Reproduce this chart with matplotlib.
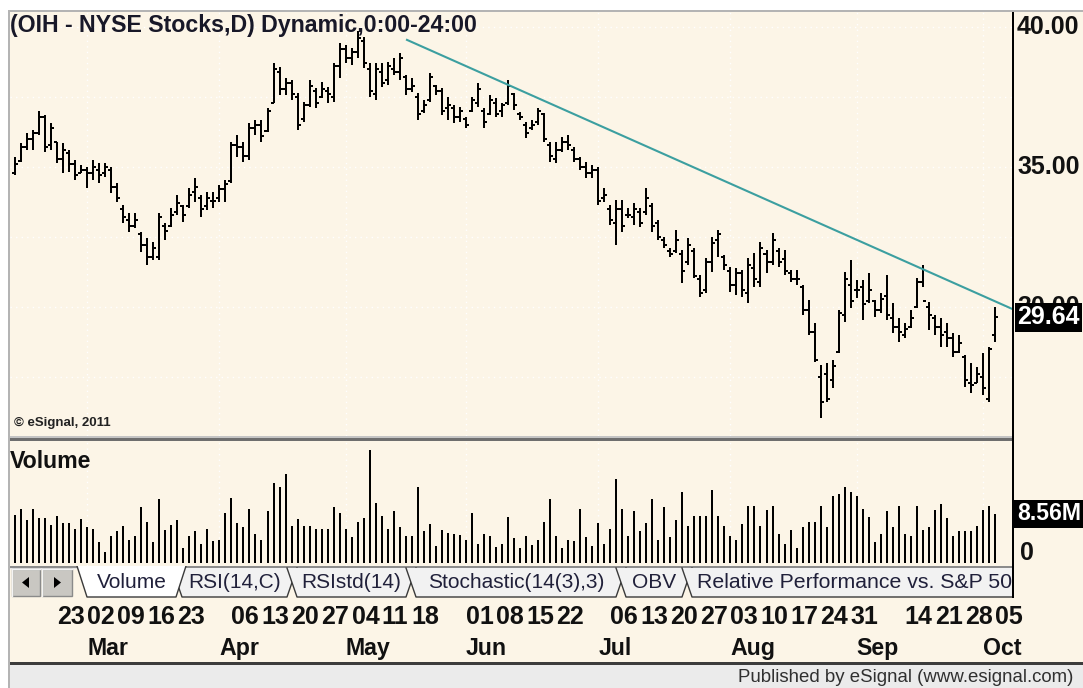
import numpy as np
import pandas as pd
import matplotlib
matplotlib.use("Agg")
import matplotlib.pyplot as plt
from matplotlib.patches import Rectangle, Polygon

plt.rcParams['font.family'] = ['Liberation Sans', 'DejaVu Sans']

# ---------------- data ----------------
first_day = '2015-02-11'
last_day = '2015-10-05'
holidays = ['2015-02-16', '2015-04-03', '2015-05-25', '2015-07-03', '2015-09-07']

high = [
    35.37, 35.85, 36.20, 36.32, 37.00, 36.86, 36.56, 35.90, 35.85, 35.61,
    35.25, 35.07, 35.01, 35.25, 35.13, 35.13, 35.01, 34.42, 33.64, 33.34,
    33.34, 32.69, 32.45, 32.33, 33.34, 32.99, 33.52, 34.00, 33.64, 34.24,
    34.59, 34.00, 34.12, 34.12, 34.36, 34.54, 35.90, 36.14, 35.90, 36.56,
    36.68, 36.68, 37.10, 38.70, 38.58, 38.17, 38.10, 37.63, 37.33, 38.10,
    37.81, 38.05, 37.87, 38.70, 39.42, 39.36, 39.24, 39.85, 39.65, 38.70,
    38.70, 38.70, 38.76, 38.88, 39.06, 38.28, 38.17, 37.63, 37.39, 38.34,
    37.93, 37.81, 37.51, 37.21, 37.15, 36.80, 37.51, 37.99, 37.10, 37.57,
    37.45, 37.27, 38.10, 37.63, 36.98, 36.62, 36.68, 37.10, 36.92, 35.90,
    35.90, 36.08, 36.14, 35.73, 35.37, 35.19, 35.07, 35.01, 34.24, 33.64,
    33.82, 33.82, 33.52, 33.70, 33.52, 34.24, 33.70, 33.10, 32.51, 32.10,
    32.75, 32.04, 32.45, 32.10, 31.14, 31.74, 32.51, 32.75, 31.86, 31.44,
    31.38, 31.32, 31.74, 31.92, 32.33, 32.04, 32.63, 32.10, 32.04, 31.32,
    31.32, 30.79, 30.25, 29.42, 27.93, 27.99, 28.11, 29.90, 31.26, 31.68,
    30.96, 30.96, 31.20, 30.25, 30.49, 31.14, 30.13, 29.60, 29.42, 29.90,
    31.02, 31.50, 30.19, 29.72, 29.60, 29.42, 29.06, 29.00, 28.29, 27.99,
    27.87, 28.35, 28.58, 30.01]

low = [
    34.71, 35.19, 35.61, 35.61, 36.14, 35.55, 35.61, 35.13, 34.77, 34.83,
    34.54, 34.77, 34.24, 34.54, 34.42, 34.65, 34.06, 33.76, 32.99, 32.69,
    32.81, 31.98, 31.50, 31.68, 31.68, 32.39, 32.87, 33.28, 33.05, 33.52,
    33.76, 33.22, 33.46, 33.52, 33.76, 33.76, 34.42, 35.37, 35.19, 35.25,
    36.14, 35.90, 36.26, 37.27, 37.57, 37.57, 37.39, 36.32, 36.62, 37.15,
    37.10, 37.45, 37.27, 37.33, 38.17, 38.70, 38.64, 38.88, 38.52, 37.51,
    37.39, 37.87, 37.93, 38.28, 38.10, 37.57, 37.69, 36.68, 36.92, 37.33,
    37.57, 36.86, 36.68, 36.56, 36.62, 36.38, 36.98, 37.15, 36.38, 36.86,
    36.77, 36.80, 37.21, 37.04, 36.68, 36.02, 36.32, 36.50, 35.90, 35.19,
    35.13, 35.55, 35.61, 35.19, 34.90, 34.60, 34.60, 33.64, 33.76, 32.93,
    32.21, 32.69, 33.17, 32.93, 32.87, 33.28, 32.69, 32.39, 32.10, 31.80,
    31.92, 30.85, 31.50, 31.02, 30.37, 30.49, 31.26, 31.80, 31.32, 30.55,
    30.43, 30.37, 30.13, 30.73, 30.73, 31.20, 31.50, 31.44, 31.14, 30.90,
    30.79, 29.72, 29.00, 28.05, 26.02, 26.62, 27.10, 28.35, 29.48, 29.95,
    30.31, 29.54, 30.13, 29.66, 29.78, 29.54, 29.06, 28.76, 28.88, 29.24,
    29.95, 30.73, 29.18, 29.00, 28.58, 28.58, 28.23, 28.35, 27.16, 26.92,
    27.27, 26.86, 26.62, 28.76]

open_ = [
    34.80, 35.20, 35.70, 36.00, 36.20, 36.80, 35.80, 35.90, 35.30, 35.50,
    35.10, 34.80, 34.90, 34.80, 34.90, 34.80, 34.90, 34.30, 33.50, 33.10,
    32.90, 32.60, 32.20, 31.80, 31.80, 32.90, 32.90, 33.40, 33.60, 33.60,
    34.10, 33.90, 33.60, 33.80, 33.90, 34.20, 34.50, 35.80, 35.70, 35.40,
    36.40, 36.50, 36.30, 37.30, 38.40, 37.80, 38.00, 37.50, 36.70, 37.20,
    37.70, 37.50, 37.70, 37.50, 38.60, 39.20, 38.90, 39.10, 39.50, 38.50,
    37.60, 38.40, 38.10, 38.50, 38.40, 38.20, 37.80, 37.50, 37.00, 37.40,
    37.90, 37.70, 37.10, 37.10, 36.80, 36.70, 37.00, 37.30, 37.00, 36.90,
    37.30, 37.00, 37.30, 37.60, 36.90, 36.50, 36.40, 36.60, 36.90, 35.80,
    35.30, 35.60, 35.90, 35.60, 35.30, 35.00, 34.80, 34.90, 33.90, 33.50,
    33.00, 33.50, 33.30, 33.20, 33.40, 33.40, 33.60, 33.00, 32.40, 32.00,
    32.00, 31.90, 31.60, 32.00, 31.00, 30.60, 31.60, 32.40, 31.80, 31.30,
    30.80, 31.20, 30.50, 31.40, 30.90, 31.90, 31.60, 32.00, 31.70, 31.20,
    31.00, 30.70, 29.90, 29.10, 27.50, 27.60, 27.40, 28.40, 29.70, 30.80,
    30.60, 30.70, 30.20, 30.20, 29.90, 30.40, 29.60, 29.30, 29.00, 29.30,
    30.00, 30.90, 30.00, 29.60, 29.30, 29.10, 28.90, 28.40, 28.20, 27.30,
    27.30, 27.50, 26.70, 29.00]

close = [
    35.10, 35.70, 36.00, 36.20, 36.80, 35.70, 36.40, 35.30, 35.60, 35.10,
    34.70, 34.90, 34.80, 35.00, 34.70, 35.00, 34.30, 33.90, 33.20, 32.90,
    33.10, 32.20, 31.80, 32.10, 33.20, 32.70, 33.30, 33.70, 33.30, 34.00,
    34.30, 33.50, 33.90, 33.80, 34.20, 34.40, 35.80, 35.70, 35.40, 36.40,
    36.50, 36.10, 37.00, 38.50, 37.80, 38.00, 37.60, 36.50, 37.20, 37.90,
    37.30, 37.80, 37.60, 38.60, 39.20, 38.90, 39.10, 39.60, 38.70, 37.70,
    38.50, 38.00, 38.60, 38.40, 38.90, 37.80, 37.90, 36.90, 37.20, 38.20,
    37.70, 37.00, 37.20, 36.80, 37.00, 36.50, 37.40, 37.80, 36.60, 37.40,
    36.90, 37.20, 37.90, 37.20, 36.80, 36.20, 36.50, 37.00, 36.00, 35.40,
    35.60, 35.90, 35.80, 35.30, 35.00, 34.80, 34.90, 33.80, 34.00, 33.10,
    33.50, 32.90, 33.30, 33.50, 33.00, 33.90, 32.90, 32.50, 32.20, 31.90,
    32.40, 31.30, 32.20, 31.10, 30.50, 31.60, 32.30, 32.60, 31.50, 30.80,
    31.20, 30.60, 31.50, 31.00, 32.10, 31.60, 32.40, 31.60, 31.30, 31.00,
    31.00, 29.90, 29.10, 28.10, 26.60, 26.70, 27.90, 29.80, 31.00, 30.20,
    30.60, 30.10, 30.60, 29.90, 30.30, 29.70, 29.30, 29.10, 29.20, 29.60,
    30.90, 30.20, 29.70, 29.30, 29.00, 28.90, 28.40, 28.70, 27.40, 27.20,
    27.60, 27.10, 28.50, 29.64]

volume_m = [
    8.4, 9.5, 7.5, 9.5, 7.8, 7.8, 6.6, 8.2, 6.9, 6.9,
    6.0, 7.6, 6.3, 6.0, 3.7, 2.0, 4.7, 5.6, 6.5, 4.0,
    4.7, 9.7, 7.2, 3.7, 11.1, 5.8, 6.6, 7.5, 2.7, 4.7,
    5.5, 3.4, 5.9, 3.9, 4.1, 8.7, 11.4, 6.9, 6.2, 9.4,
    5.1, 4.0, 9.0, 13.9, 13.2, 15.6, 6.5, 7.6, 6.5, 6.5,
    5.9, 5.9, 5.9, 9.7, 8.7, 5.9, 4.5, 7.2, 7.8, 19.7,
    10.4, 8.2, 5.9, 9.0, 6.3, 4.7, 4.7, 13.2, 5.5, 6.8,
    3.0, 5.8, 5.2, 5.1, 4.9, 4.0, 8.7, 3.3, 5.1, 4.7,
    2.85, 3.4, 8.0, 4.3, 2.6, 4.7, 3.1, 4.0,
    7.2, 11.1, 4.7, 2.7, 4.0, 3.9, 9.4, 4.5, 3.0, 6.9,
    3.4, 5.9, 14.6, 9.4, 4.7, 9.0, 5.5, 6.9, 11.1, 4.1,
    9.7, 4.5, 7.5, 12.4, 6.5, 8.2, 8.2, 8.2, 12.8, 8.2,
    6.5, 4.7, 4.1, 6.8, 10.0, 10.0, 6.5, 9.3, 10.0, 5.1,
    3.3, 5.8, 2.7, 6.2, 7.2, 7.2, 10.0, 6.2, 11.7, 12.1,
    13.2, 12.4, 11.7, 9.4, 8.0, 3.7, 5.1, 9.0, 6.2, 10.0,
    5.1, 4.7, 10.0, 5.8, 6.2, 9.3, 10.3, 7.8, 4.7, 5.5,
    5.5, 5.5, 6.5, 9.3, 10.0, 8.56]

# trend line anchors (bar index, price)
trend_bar = [65.2, 166.3]
trend_price = [39.54, 29.89]

price_labels = [40.0, 35.0, 30.0]
grid_levels = [27.5, 30.0, 32.5, 35.0, 37.5, 40.0]

day_label_dates = ['2015-02-23', '2015-03-02', '2015-03-09', '2015-03-16', '2015-03-23',
                   '2015-04-06', '2015-04-13', '2015-04-20', '2015-04-27', '2015-05-04',
                   '2015-05-11', '2015-05-18', '2015-06-01', '2015-06-08', '2015-06-15',
                   '2015-06-22', '2015-07-06', '2015-07-13', '2015-07-20', '2015-07-27',
                   '2015-08-03', '2015-08-10', '2015-08-17', '2015-08-24', '2015-08-31',
                   '2015-09-14', '2015-09-21', '2015-09-28', '2015-10-05']
month_names = ['Mar', 'Apr', 'May', 'Jun', 'Jul', 'Aug', 'Sep', 'Oct']

tab_names = ['Volume', 'RSI(14,C)', 'RSIstd(14)', 'Stochastic(14(3),3)', 'OBV',
             'Relative Performance vs. S&P 500']

title = '(OIH - NYSE Stocks,D) Dynamic,0:00-24:00'

# ---------------- layout ----------------
dates = pd.bdate_range(first_day, last_day)
dates = dates[~dates.isin(pd.to_datetime(holidays))]
n = len(dates)
xs = np.arange(n)
pos = {d: i for i, d in enumerate(dates)}

W, H = 1083, 688
CREAM = '#FCF5E7'
BAR_X0, BAR_DX = 15.0, 6.012        # pixel of first bar / pixels per bar
PX_PER_UNIT = 28.0                  # price scale
PX_PER_M = 5.73                     # volume scale
LW = 1.44                           # 2 px
AXIS_FS = 18.0


def fr(x0, y0, x1, y1):
    return [x0 / W, 1 - y1 / H, (x1 - x0) / W, (y1 - y0) / H]


fig = plt.figure(figsize=(W / 100, H / 100), dpi=100, facecolor='white')


def frect(x0, y0, x1, y1, color, z=-1):
    fig.patches.append(Rectangle((x0 / W, 1 - y1 / H), (x1 - x0) / W, (y1 - y0) / H,
                                 transform=fig.transFigure, facecolor=color,
                                 edgecolor='none', zorder=z))


# backgrounds & frames
frect(10, 12, 1083, 664, CREAM)
frect(8, 10, 1083, 12, '#B4B4B4')
frect(8, 10, 10, 688, '#B4B4B4')
frect(10, 664, 1083, 688, '#EBEBEB')
frect(10, 662, 1083, 665, '#3C3C3C', z=5)
frect(10, 436, 1014, 438, '#C4C4C4', z=5)
frect(10, 438, 1014, 441, '#6E6E6E', z=5)
frect(1012, 12, 1014, 598, '#000000', z=6)

xlim = ((10 - BAR_X0) / BAR_DX, (1014 - BAR_X0) / BAR_DX)

# ---------------- price pane ----------------
axp = fig.add_axes(fr(10, 12, 1014, 436))
axp.set_facecolor(CREAM)
axp.set_xlim(*xlim)
axp.set_ylim(40 - (436 - 27) / PX_PER_UNIT, 40 + (27 - 12) / PX_PER_UNIT)
for s in axp.spines.values():
    s.set_visible(False)
axp.set_xticks([])
axp.set_yticks([])

month_starts = [pos[dates[dates.month == m][0]] for m in range(3, 11)]
for lv in grid_levels:
    axp.axhline(lv, color='white', lw=1.0, ls=(0, (1, 3)), zorder=1)
for ms in month_starts:
    axp.axvline(ms, color='white', lw=1.0, ls=(0, (1, 3)), zorder=1)

axp.vlines(xs, low, high, color='black', lw=LW, capstyle='butt', zorder=3)
axp.hlines(open_, xs - 0.5, xs, color='black', lw=LW, capstyle='butt', zorder=3)
axp.hlines(close, xs, xs + 0.5, color='black', lw=LW, capstyle='butt', zorder=3)

axp.plot(trend_bar, trend_price, color='#3C9FA0', lw=1.5, zorder=4, clip_on=True)

axp.text(0.0, 0.967, title, transform=axp.transAxes, ha='left', va='center',
         fontsize=16.7, fontweight='bold', color='#181828', zorder=2)
axp.text(0.004, 0.031, '\u00a9 eSignal, 2011', transform=axp.transAxes, ha='left',
         va='center', fontsize=9.5, fontweight='bold', color='#222222')

ytr = axp.get_yaxis_transform()
for lv in price_labels:
    axp.text(1.003, lv, f'{lv:.2f}', transform=ytr, ha='left', va='center',
             fontsize=AXIS_FS, fontweight='bold', color='#111111', zorder=2)
axp.text(1.003, close[-1], f'{close[-1]:.2f}', transform=ytr, ha='left', va='center',
         fontsize=AXIS_FS, fontweight='bold', color='white', zorder=7,
         bbox=dict(boxstyle='square,pad=0.1', fc='black', ec='none'))

# ---------------- volume pane ----------------
axv = fig.add_axes(fr(10, 441, 1014, 566))
axv.set_facecolor(CREAM)
axv.set_xlim(*xlim)
axv.set_ylim(-(566 - 563) / PX_PER_M, (563 - 441) / PX_PER_M)
for s in axv.spines.values():
    s.set_visible(False)
axv.set_xticks([])
axv.set_yticks([])
for ms in month_starts:
    axv.axvline(ms, color='white', lw=1.0, ls=(0, (1, 3)), zorder=1)
axv.vlines(xs, 0, volume_m, color='black', lw=LW, capstyle='butt', zorder=3)
axv.text(0.0, 0.84, 'Volume', transform=axv.transAxes, ha='left', va='center',
         fontsize=16.7, fontweight='bold', color='#111111')
vtr = axv.get_yaxis_transform()
axv.text(1.003, volume_m[-1], f'{volume_m[-1]:.2f}M', transform=vtr, ha='left',
         va='center', fontsize=16.6, fontweight='bold', color='white', zorder=7,
         bbox=dict(boxstyle='square,pad=0.12', fc='black', ec='none'))
axv.annotate('0', xy=(1.006, 0), xycoords=vtr, xytext=(0, 10),
             textcoords='offset pixels', ha='left', va='center', fontsize=AXIS_FS,
             fontweight='bold', color='#111111', annotation_clip=False)

# ---------------- tab row ----------------
axt = fig.add_axes(fr(10, 566, 1012, 600))
axt.set_xlim(10, 1012)
axt.set_ylim(600, 566)
axt.axis('off')
axt.add_patch(Rectangle((10, 566), 1002, 3, fc='#E6E6E6', ec='none', zorder=0))
axt.plot([10, 1012], [566.5, 566.5], color='#7A7A7A', lw=1.2, zorder=1)

# scroll buttons
for bx0, bx1, direction in [(12, 40, -1), (42, 72, 1)]:
    axt.add_patch(Rectangle((bx0, 569), bx1 - bx0, 27, fc='#C9C7C2', ec='#8A8A8A',
                            lw=1.0, zorder=2))
    axt.plot([bx0, bx0, bx1], [596, 569, 569], color='#F4F4F4', lw=1.0, zorder=2.1)
    cx = (bx0 + bx1) / 2
    tri = [(cx + 4 * direction, 582.5), (cx - 3 * direction, 577), (cx - 3 * direction, 588)]
    axt.add_patch(Polygon(tri, closed=True, fc='black', ec='none', zorder=3))

tab_left = [77, 172, 287, 406, 616, 682]
tab_right = [186, 297, 416, 626, 692, 1060]
slant = 10
draw_order = [1, 2, 3, 4, 5, 0]
for rank, k in enumerate(draw_order):
    l, r = tab_left[k], tab_right[k]
    z = 4 + rank * 0.1
    top = 566 if k == 0 else 568
    pts = [(l, top), (l + slant, 597), (r - slant, 597), (r, top)]
    fc = 'white' if k == 0 else '#F2F2F2'
    axt.add_patch(Polygon(pts, closed=True, fc=fc, ec='none', zorder=z))
    axt.plot([p[0] for p in pts], [p[1] for p in pts], color='#3A3A3A', lw=1.0,
             zorder=z + 0.05)
    if k < 5:
        axt.text((l + r) / 2, 583, tab_names[k], ha='center', va='center',
                 fontsize=15.0, color='#20203A', zorder=7)
    else:
        axt.text(l + 15, 583, tab_names[k], ha='left', va='center',
                 fontsize=15.3, color='#20203A', zorder=7, clip_on=True)

# ---------------- date axis ----------------
axd = fig.add_axes(fr(10, 600, 1014, 662))
axd.set_xlim(*xlim)
axd.set_ylim(0, 1)
axd.axis('off')
dtr = axd.get_xaxis_transform()
for ds in day_label_dates:
    d = pd.Timestamp(ds)
    axd.text(pos[d], 0.72, d.strftime('%d'), transform=dtr, ha='left', va='center',
             fontsize=AXIS_FS, fontweight='bold', color='#111111', clip_on=False)
for ms, name in zip(month_starts, month_names):
    axd.text(ms, 0.22, name, transform=dtr, ha='left', va='center',
             fontsize=16.7, fontweight='bold', color='#111111', clip_on=False)

fig.text(1073 / W, 1 - 677 / H, 'Published by eSignal (www.esignal.com)', ha='right',
         va='center', fontsize=13.4, color='#303030')

fig.savefig('out.png', dpi=100, facecolor=fig.get_facecolor())
